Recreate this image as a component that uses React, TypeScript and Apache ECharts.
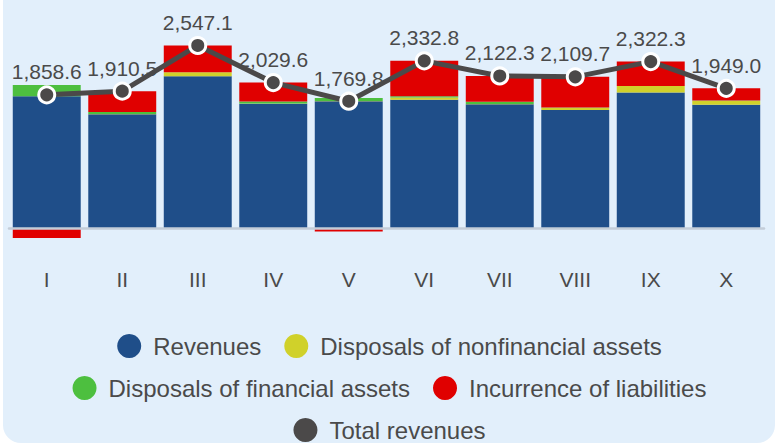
import React, { useEffect, useRef } from "react";
import * as echarts from "echarts";

const categories = ["I", "II", "III", "IV", "V", "VI", "VII", "VIII", "IX", "X"];
const revenues = [1840, 1588, 2118, 1735, 1770, 1790, 1728, 1646, 1893, 1722];
const nonfinancialDisposals = [0, 2, 55, 3, 3, 30, 3, 33, 88, 55];
const financialDisposals = [155, 30, 2, 27, 42, 18, 30, 2, 2, 2];
const liabilities = [-136.4, 290.5, 372.1, 264.6, -45.2, 494.8, 361.3, 428.7, 339.3, 170];
const totalRevenues = [1858.6, 1910.5, 2547.1, 2029.6, 1769.8, 2332.8, 2122.3, 2109.7, 2322.3, 1949.0];

const NAMES = [
  "Revenues",
  "Disposals of nonfinancial assets",
  "Disposals of financial assets",
  "Incurrence of liabilities",
  "Total revenues",
];
const COLORS = ["#1f4e89", "#d0d12a", "#4dbf3f", "#e00000", "#4b4949"];
const FONT = "'Liberation Sans', Arial, Helvetica, sans-serif";

export default function App() {
  const ref = useRef<HTMLDivElement>(null);
  useEffect(() => {
    if (!ref.current) return;
    const chart = echarts.init(ref.current, undefined, { renderer: "svg" });
    const legendBase = {
      left: "center",
      icon: "circle",
      itemWidth: 24,
      itemHeight: 24,
      itemGap: 23,
      itemStyle: { borderWidth: 0 },
      textStyle: { fontFamily: FONT, fontSize: 24, color: "#4a4a4a", padding: [0, 0, 0, 7] },
      selectedMode: false,
    };
    const barSeries = [revenues, nonfinancialDisposals, financialDisposals, liabilities].map((d, i) => ({
      name: NAMES[i],
      type: "bar",
      stack: "total",
      data: d,
      barCategoryGap: "10%",
      itemStyle: { color: COLORS[i] },
      z: 2,
    }));
    chart.setOption({
      animation: false,
      textStyle: { fontFamily: FONT },
      graphic: [
        {
          type: "rect",
          z: -10,
          silent: true,
          shape: { x: 3, y: -20, width: 772, height: 463, r: 18 },
          style: { fill: "#e2effb" },
        },
      ],
      grid: { left: 9, right: 15, top: 13, height: 251, containLabel: false },
      legend: [
        { ...legendBase, top: 329, data: [NAMES[0], NAMES[1]] },
        { ...legendBase, top: 371, data: [NAMES[2], NAMES[3]] },
        { ...legendBase, top: 413, data: [NAMES[4]] },
      ],
      xAxis: {
        type: "category",
        data: categories,
        z: 3,
        axisLine: { onZero: true, lineStyle: { color: "#c3cdd8", width: 2.5 } },
        axisTick: { show: false },
        axisLabel: { margin: 5, fontSize: 21, color: "#4a4a4a", fontFamily: FONT },
      },
      yAxis: {
        type: "value",
        min: -500,
        max: 3000,
        show: false,
        splitLine: { show: false },
      },
      series: [
        ...barSeries,
        {
          name: NAMES[4],
          type: "line",
          data: totalRevenues,
          z: 5,
          symbol: "circle",
          symbolSize: 16,
          itemStyle: { color: COLORS[4], borderColor: "#ffffff", borderWidth: 3 },
          lineStyle: { color: COLORS[4], width: 5 },
          label: {
            show: true,
            position: "top",
            distance: 3,
            fontSize: 21,
            color: "#4a4a4a",
            fontFamily: FONT,
            formatter: (p: any) =>
              Number(p.value).toLocaleString("en-US", { minimumFractionDigits: 1, maximumFractionDigits: 1 }),
          },
        },
      ],
    });
    return () => chart.dispose();
  }, []);
  return (
    <div
      ref={ref}
      style={{ position: "absolute", left: 0, top: 0, width: 779, height: 444, background: "#ffffff" }}
    />
  );
}
